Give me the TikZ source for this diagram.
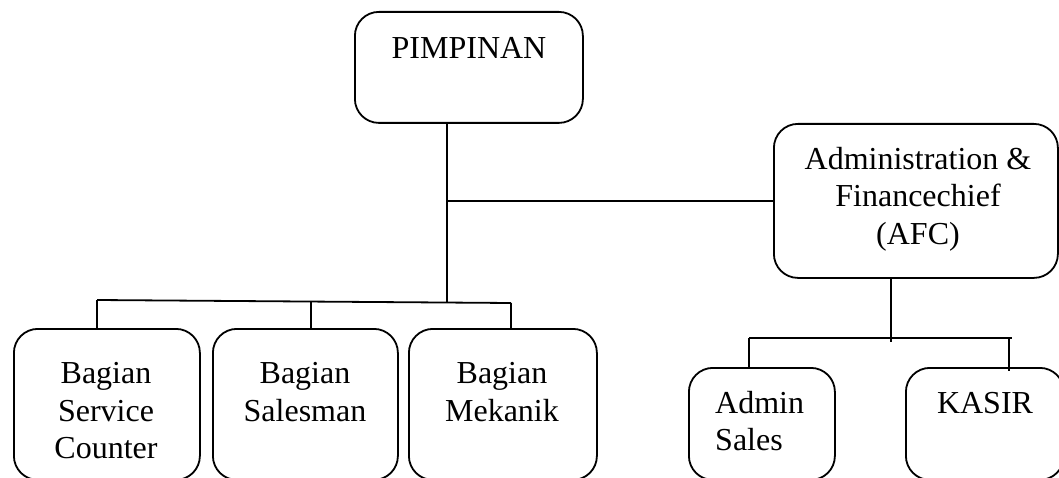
\documentclass[tikz,border=0pt]{standalone}
\usepackage{fontspec}
\setmainfont{Liberation Serif}
\begin{document}
\begin{tikzpicture}[x=1pt,y=-1pt,
  box/.style={draw,line width=1.8pt,rounded corners=24pt,anchor=north west,inner sep=0pt},
  lbl/.style={inner sep=0pt,align=center,font=\fontsize{32}{37.5}\selectfont},
  conn/.style={line width=1.8pt}]
\useasboundingbox (0,0) rectangle (1059,478);
\clip (0,0) rectangle (1059,478);
% boxes
\node[box,minimum width=228pt,minimum height=111pt] (pim) at (354,11) {};
\node[box,minimum width=284pt,minimum height=154pt] (afc) at (773,123) {};
\node[box,minimum width=186pt,minimum height=151pt] (svc) at (13,328) {};
\node[box,minimum width=185pt,minimum height=151pt] (sal) at (212,328) {};
\node[box,minimum width=188pt,minimum height=151pt] (mek) at (408,328) {};
\node[box,minimum width=146pt,minimum height=112pt] (adm) at (688,367) {};
\node[box,minimum width=158pt,minimum height=112pt] (kas) at (905,367) {};
% texts
\node[lbl] (tpim) at (469,48) {PIMPINAN};
\node[lbl] (tafc) at (918,199) {Administration \&\\Financechief\\(AFC)};
\node[lbl] (tsvc) at (106,411) {Bagian\\Service\\Counter};
\node[lbl] (tsal) at (305,392) {Bagian\\Salesman};
\node[lbl] (tmek) at (502,392) {Bagian\\Mekanik};
\node[lbl,align=left,anchor=west] (tadm) at (715,421) {Admin\\Sales};
\node[lbl] (tkas) at (985,403) {KASIR};
% junctions
\coordinate (j1) at (447,201);
\coordinate (b1) at (447,302);
\coordinate (bl) at (97,300);
\coordinate (bm) at (311,301);
\coordinate (br) at (511,303);
\coordinate (a1) at (891,342);
\coordinate (al) at (749,338);
\coordinate (ar) at (1012,338);
\coordinate (ak) at (1009,338);
% connectors
\draw[conn] (pim.south -| b1) -- (b1);
\draw[conn] (j1) -- (afc.west |- j1);
\draw[conn] (bl) -- (br);
\draw[conn] (bl) -- (svc.north -| bl);
\draw[conn] (bm) -- (sal.north -| bm);
\draw[conn] (br) -- (mek.north -| br);
\draw[conn] (afc.south -| a1) -- (a1);
\draw[conn] (al) -- (ar);
\draw[conn] (al) -- (adm.north -| al);
\draw[conn] (ak) -- ([yshift=-4pt]kas.north -| ak);
\end{tikzpicture}
\end{document}
